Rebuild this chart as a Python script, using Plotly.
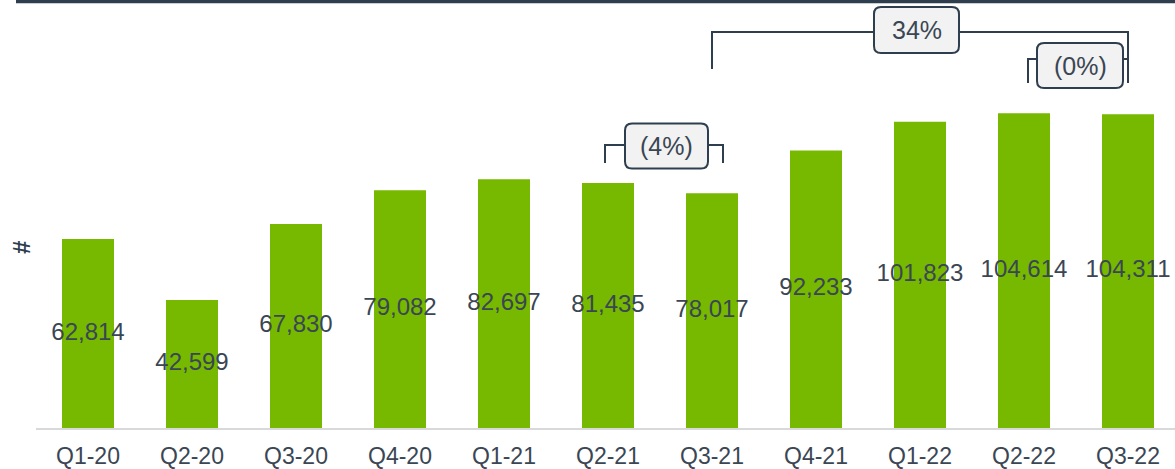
import plotly.graph_objects as go

# ---------------- data ----------------
QUARTERS = ["Q1-20", "Q2-20", "Q3-20", "Q4-20", "Q1-21", "Q2-21",
            "Q3-21", "Q4-21", "Q1-22", "Q2-22", "Q3-22"]
VALUES = [62814, 42599, 67830, 79082, 82697, 81435,
          78017, 92233, 101823, 104614, 104311]
VALUE_LABELS = [f"{v:,}" for v in VALUES]

CHANGE_LABELS = ["(4%)", "34%", "(0%)"]
CHANGE_FROM = ["Q2-21", "Q3-21", "Q2-22"]
CHANGE_TO = ["Q3-21", "Q3-22", "Q3-22"]

Y_TITLE = "#"

# ---------------- layout constants ----------------
W, H = 1175, 469
ML, MR, MT, MB = 36, 0, 0, 41
PLOT_W = W - ML - MR
PLOT_H = H - MT - MB
X_UNIT_PX = 104.0
X0 = -0.5
X1 = X0 + PLOT_W / X_UNIT_PX
Y_PER_PX = 332.5
Y1 = PLOT_H * Y_PER_PX

GREEN = "#76b900"
DARK = "#2f3e4e"
TEXT = "#3a4653"
FONT = "Liberation Sans, Arial, sans-serif"


def px_x(px):
    return X0 + (px - ML) / X_UNIT_PX


def px_y(py):
    return (MT + PLOT_H - py) * Y_PER_PX


def cat_px(name):
    return ML + (QUARTERS.index(name) - X0) * X_UNIT_PX


# bracket styling (pixel offsets / heights)
BRACKET_STYLE = [
    dict(loff=-3, roff=11, top=145, lbot=163, rbot=163, cx=666.5, cy=146, w=83, h=45),
    dict(loff=0, roff=0, top=32, lbot=69, rbot=83, cx=916.5, cy=30, w=85, h=46),
    dict(loff=4, roff=0, top=59, lbot=83, rbot=83, cx=1080, cy=65.5, w=86, h=45),
]


def pt(px, py):
    return f"{px_x(px):.5f},{px_y(py):.3f}"


def rrect_path(cx, cy, w, h, r):
    x0, x1 = cx - w / 2, cx + w / 2
    y0, y1 = cy - h / 2, cy + h / 2
    return (f"M{pt(x0 + r, y0)} L{pt(x1 - r, y0)} Q{pt(x1, y0)} {pt(x1, y0 + r)} "
            f"L{pt(x1, y1 - r)} Q{pt(x1, y1)} {pt(x1 - r, y1)} "
            f"L{pt(x0 + r, y1)} Q{pt(x0, y1)} {pt(x0, y1 - r)} "
            f"L{pt(x0, y0 + r)} Q{pt(x0, y0)} {pt(x0 + r, y0)} Z")


fig = go.Figure()

fig.add_trace(go.Bar(
    x=QUARTERS, y=VALUES, width=0.5,
    marker=dict(color=GREEN, line=dict(width=0)),
    hoverinfo="skip",
))

fig.add_trace(go.Scatter(
    x=QUARTERS, y=[v / 2 for v in VALUES], mode="text",
    text=VALUE_LABELS, textposition="middle center",
    textfont=dict(family=FONT, size=24, color=TEXT),
    cliponaxis=False, hoverinfo="skip",
))

shapes = []
annotations = []

# top dark rule
shapes.append(dict(type="line", xref="paper", yref="paper",
                   x0=(16 - ML) / PLOT_W, x1=1.0,
                   y0=1 - 1.5 / PLOT_H, y1=1 - 1.5 / PLOT_H,
                   line=dict(color=DARK, width=3.5)))

# bracket lines
for lab, a, b, st in zip(CHANGE_LABELS, CHANGE_FROM, CHANGE_TO, BRACKET_STYLE):
    lx = cat_px(a) + st["loff"]
    rx = cat_px(b) + st["roff"]
    path = (f"M{pt(lx, st['lbot'])} L{pt(lx, st['top'])} "
            f"L{pt(rx, st['top'])} L{pt(rx, st['rbot'])}")
    shapes.append(dict(type="path", xref="x", yref="y", path=path,
                       line=dict(color=DARK, width=2)))

# bracket boxes + labels
for lab, st in zip(CHANGE_LABELS, BRACKET_STYLE):
    shapes.append(dict(type="path", xref="x", yref="y",
                       path=rrect_path(st["cx"], st["cy"], st["w"], st["h"], 7),
                       fillcolor="#f2f2f2", line=dict(color=DARK, width=2)))
    annotations.append(dict(x=px_x(st["cx"]), y=px_y(st["cy"]), xref="x", yref="y",
                            text=lab, showarrow=False,
                            font=dict(family=FONT, size=25, color=TEXT),
                            xanchor="center", yanchor="middle"))

# y-axis title '#'
annotations.append(dict(x=(21 - ML) / PLOT_W, y=(PLOT_H - 248 + MT) / PLOT_H,
                        xref="paper", yref="paper", text=f"<b>{Y_TITLE}</b>",
                        showarrow=False, textangle=-90,
                        font=dict(family=FONT, size=24, color=DARK),
                        xanchor="center", yanchor="middle"))

fig.update_layout(
    width=W, height=H,
    margin=dict(l=ML, r=MR, t=MT, b=MB, pad=0),
    plot_bgcolor="white", paper_bgcolor="white",
    showlegend=False,
    shapes=shapes, annotations=annotations,
    xaxis=dict(type="category", range=[X0, X1], showgrid=False, zeroline=False,
               showline=True, linecolor="#d9d9d9", linewidth=2,
               ticks="", tickfont=dict(family=FONT, size=23, color=TEXT),
               ticklabelstandoff=6, fixedrange=True),
    yaxis=dict(range=[0, Y1], showgrid=False, zeroline=False, showline=False,
               showticklabels=False, ticks="", fixedrange=True),
)

fig.write_html("out.html",
               config={"displayModeBar": False, "staticPlot": True},
               post_script="document.body.style.margin='0';document.body.style.overflow='hidden';")
